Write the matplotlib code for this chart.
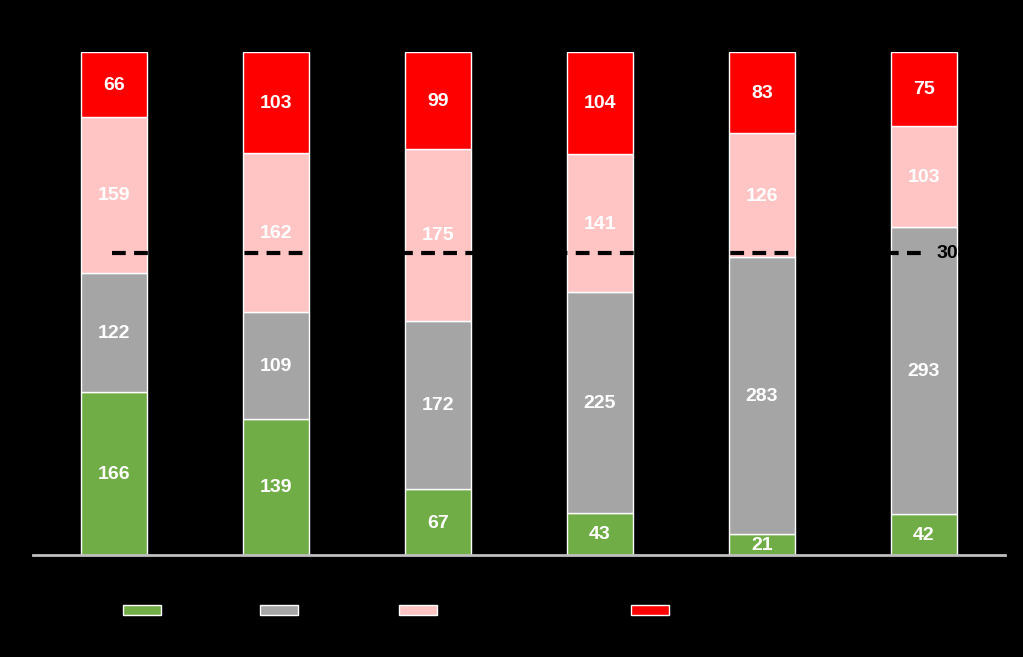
import numpy as np
import matplotlib.pyplot as plt
from matplotlib.patches import Patch

plt.rcParams["font.family"] = ["Liberation Sans", "DejaVu Sans"]

# 데이터 (아래에서 위로 쌓는 순서)
categories = ["1", "2", "3", "4", "5", "6"]
green_vals = [166, 139, 67, 43, 21, 42]
grey_vals = [122, 109, 172, 225, 283, 293]
pink_vals = [159, 162, 175, 141, 126, 103]
red_vals = [66, 103, 99, 104, 83, 75]
ref_value = 308
ref_label = "308"

series = [green_vals, grey_vals, pink_vals, red_vals]
colors = ["#70AD47", "#A5A5A5", "#FFC5C5", "#FF0000"]

fig = plt.figure(figsize=(10.23, 6.57), dpi=100, facecolor="black")
ax = fig.add_axes([33 / 1023, 102 / 657, 972 / 1023, 503 / 657])
ax.set_facecolor("black")

x = np.arange(len(categories))
bottom = np.zeros(len(categories))
for vals, col in zip(series, colors):
    ax.bar(x, vals, width=0.405, bottom=bottom, color=col,
           edgecolor="white", linewidth=1.0, zorder=2)
    for xi, b, v in zip(x, bottom, vals):
        ax.text(xi, b + v / 2 - 1, str(v), ha="center", va="center",
                color="white", fontsize=14, fontweight="bold", zorder=4)
    bottom += np.array(vals)

# 기준선 (검은 점선)
ax.plot([x[0] - 0.01, x[-1]], [ref_value, ref_value], color="black",
        linestyle=(0, (3.3, 2)), linewidth=3, zorder=3)
ax.text(x[-1] + 0.08, ref_value, ref_label, ha="left", va="center",
        color="black", fontsize=14, fontweight="bold", zorder=4)

ax.set_xlim(-0.5, 5.5)
ax.set_ylim(0, 513)
ax.set_xticks([])
ax.set_yticks([])
for s in ["top", "right", "left"]:
    ax.spines[s].set_visible(False)
ax.spines["bottom"].set_color("#BFBFBF")
ax.spines["bottom"].set_linewidth(2)

# 범례 (글자는 검정이라 배경과 같음)
legend_x = [142 / 1023, 279 / 1023, 418 / 1023, 650 / 1023]
for col, lx in zip(colors, legend_x):
    fig.legend(handles=[Patch(facecolor=col, edgecolor="white", linewidth=1)],
               labels=[""], loc="center", bbox_to_anchor=(lx, 1 - 611 / 657),
               frameon=False, handlelength=2.7, handleheight=0.8,
               handletextpad=0, borderpad=0, fontsize=10)

fig.savefig("out.png", dpi=100, facecolor="black")
